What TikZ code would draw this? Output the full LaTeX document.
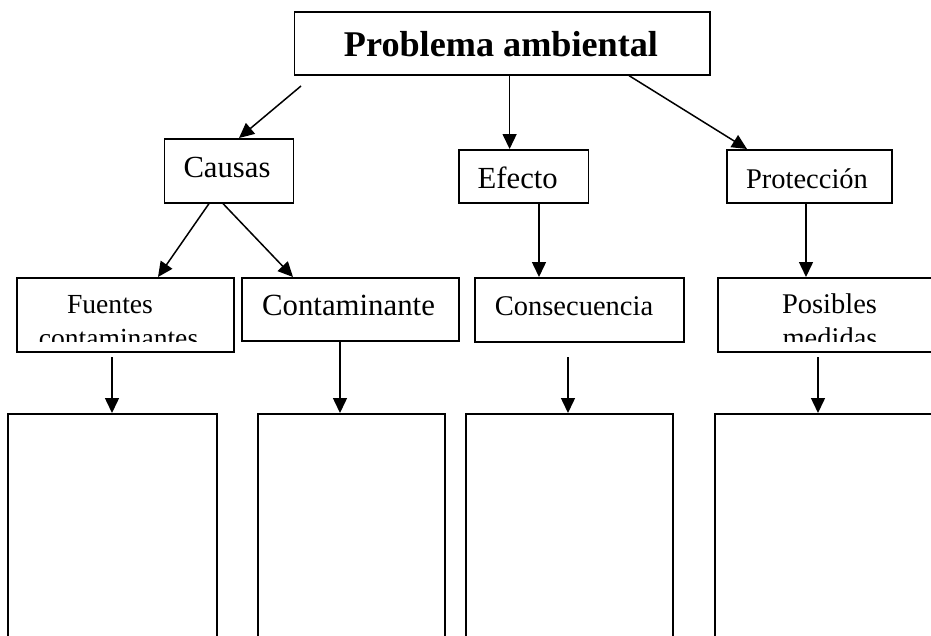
\documentclass[tikz,border=0pt]{standalone}
\usepackage{fontspec}
\setmainfont{Liberation Serif}
\usetikzlibrary{arrows.meta}
\begin{document}
\begin{tikzpicture}[x=1pt,y=-1pt,
  box/.style={draw,line width=1.6pt,rectangle,inner sep=0pt,anchor=north west},
  txt/.style={anchor=base,inner sep=0pt},
  arr/.style={line width=1.5pt,-{Triangle[length=15pt,width=14pt]}}]
\clip (0,0) rectangle (931,635);
\fill[white] (0,0) rectangle (931,635);
% boxes
\node[box,minimum width=415.4pt,minimum height=63pt] (top) at (293.6,11) {};
\node[box,minimum width=129pt,minimum height=64pt] (causas) at (163.6,138) {};
\node[box,minimum width=129.5pt,minimum height=53pt] (efecto) at (458,149) {};
\node[box,minimum width=165pt,minimum height=53pt] (proteccion) at (726,149) {};
\node[box,minimum width=217pt,minimum height=74pt] (fuentes) at (16,277) {};
\node[box,minimum width=217pt,minimum height=63pt] (contaminante) at (241,277) {};
\node[box,minimum width=209pt,minimum height=64pt] (consecuencia) at (474,277) {};
\node[box,minimum width=230pt,minimum height=74pt] (posibles) at (717,277) {};
\node[box,minimum width=209pt,minimum height=260pt] (b1) at (7,413) {};
\node[box,minimum width=187pt,minimum height=260pt] (b2) at (257,413) {};
\node[box,minimum width=207pt,minimum height=260pt] (b3) at (465,413) {};
\node[box,minimum width=240pt,minimum height=260pt] (b4) at (714,413) {};
% texts
\node[txt,font=\fontsize{36.2}{40}\selectfont\bfseries] (ttl) at (501,56) {Problema ambiental};
\node[txt,font=\fontsize{30.7}{36}\selectfont] (tcausas) at (227,177) {Causas};
\node[txt,font=\fontsize{30.7}{36}\selectfont] (tefecto) at (517.7,188) {Efecto};
\node[txt,font=\fontsize{28.5}{34}\selectfont] (tprot) at (807,188) {Protección};
\node[txt,font=\fontsize{27.6}{34}\selectfont] (tfuentes) at (110,313) {Fuentes};
\begin{scope}
\clip (16,277) rectangle (233,341);
\node[txt,font=\fontsize{27.6}{34}\selectfont] (tcont2) at (118.5,347) {contaminantes};
\end{scope}
\node[txt,font=\fontsize{30.8}{36}\selectfont] (tcont) at (348.5,315) {Contaminante};
\node[txt,font=\fontsize{28.5}{34}\selectfont] (tcons) at (574,315) {Consecuencia};
\node[txt,font=\fontsize{28.5}{34}\selectfont] (tpos) at (829.5,313) {Posibles};
\begin{scope}
\clip (717,277) rectangle (931,341);
\node[txt,font=\fontsize{28.5}{34}\selectfont] (tmed) at (830,347) {medidas};
\end{scope}
% coordinates
\coordinate (a1s) at (301,86);
\coordinate (x1) at (239,0);
\coordinate (x2) at (509.6,0);
\coordinate (x3s) at (629,0);
\coordinate (x3e) at (747,0);
\coordinate (x4s) at (209,0);
\coordinate (x4e) at (158,0);
\coordinate (x5s) at (223,0);
\coordinate (x5e) at (293,0);
\coordinate (x6) at (539,0);
\coordinate (x7) at (806,0);
\coordinate (s1) at (112,357);
\coordinate (x8) at (340,0);
\coordinate (s3) at (568,357);
\coordinate (s4) at (818,357);
% connectors
\draw[arr] (a1s) -- (x1 |- causas.north);
\draw[arr] (x2 |- top.south) -- (x2 |- efecto.north);
\draw[arr] (x3s |- top.south) -- (x3e |- proteccion.north);
\draw[arr] (x4s |- causas.south) -- (x4e |- fuentes.north);
\draw[arr] (x5s |- causas.south) -- (x5e |- contaminante.north);
\draw[arr] (x6 |- efecto.south) -- (x6 |- consecuencia.north);
\draw[arr] (x7 |- proteccion.south) -- (x7 |- posibles.north);
\draw[arr] (s1) -- (s1 |- b1.north);
\draw[arr] (x8 |- contaminante.south) -- (x8 |- b2.north);
\draw[arr] (s3) -- (s3 |- b3.north);
\draw[arr] (s4) -- (s4 |- b4.north);
\end{tikzpicture}
\end{document}
